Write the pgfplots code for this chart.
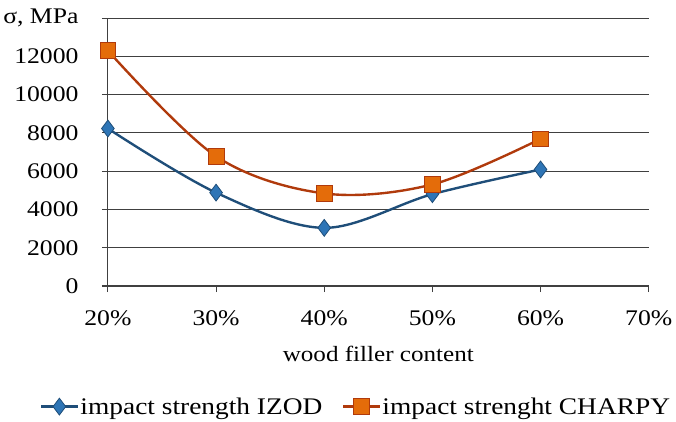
\documentclass[border=0pt]{standalone}
\usepackage{pgfplots}
\pgfplotsset{compat=1.18}
\usepackage{fontspec}
\setmainfont{Liberation Serif}[FakeStretch=1.15]
\definecolor{izodline}{RGB}{31,78,121}
\definecolor{izodmark}{RGB}{46,117,182}
\definecolor{charpyline}{RGB}{176,58,12}
\definecolor{charpymark}{RGB}{228,108,10}

\begin{document}
\begin{tikzpicture}
\begin{axis}[
    width=543bp, height=269bp,
    scale only axis,
    xmin=20, xmax=70,
    ymin=0, ymax=14000,
    scaled ticks=false,
    xtick={20,30,...,70},
    xticklabels={20\%,30\%,40\%,50\%,60\%,70\%},
    ytick={0,2000,...,14000},
    yticklabels={0,2000,4000,6000,8000,10000,12000,{σ, MPa}},
    ymajorgrids,
    grid style={black!75, line width=1.1pt},
    axis x line*=bottom,
    axis y line*=left,
    axis line style={black!75, line width=1.1pt},
    tick style={black!75, line width=1.1pt},
    tick align=outside,
    major tick length=6bp,
    every axis plot/.append style={line width=2.4pt},
    tick label style={font=\fontsize{22.5}{26}\selectfont},
    /pgf/number format/assume math mode=true,
    xticklabel style={yshift=-15bp},
    yticklabel style={xshift=-20bp},
    title={\rule{0pt}{12bp}},
    title style={inner sep=0pt, yshift=0pt},
    xlabel={wood filler content},
    xlabel style={font=\fontsize{22}{26}\selectfont, yshift=-14bp},
    legend style={at={(0.459,-0.45)}, anchor=center, draw=none, fill=none,
        legend columns=2, font=\fontsize{24}{28}\selectfont,
        inner sep=4bp,
        /tikz/every even column/.append style={column sep=18bp}},
    legend image code/.code={
        \draw[#1, mark repeat=2, mark phase=2] plot coordinates {(0bp,0bp) (18bp,0bp) (36bp,0bp)};
    },
]
\addplot[color=izodline, smooth, tension=0.55, mark=diamond*, mark size=8.5pt,
    mark options={fill=izodmark, draw=izodline, line width=0.8pt}]
    coordinates {(20,8230) (30,4880) (40,3040) (50,4800) (60,6090)};
\addlegendentry{impact strength IZOD}
\addplot[color=charpyline, smooth, tension=0.55, mark=square*, mark size=8pt,
    mark options={fill=charpymark, draw=charpyline, line width=0.8pt}]
    coordinates {(20,12300) (30,6780) (40,4840) (50,5310) (60,7690)};
\addlegendentry{impact strenght CHARPY}
\end{axis}
\end{tikzpicture}
\end{document}
